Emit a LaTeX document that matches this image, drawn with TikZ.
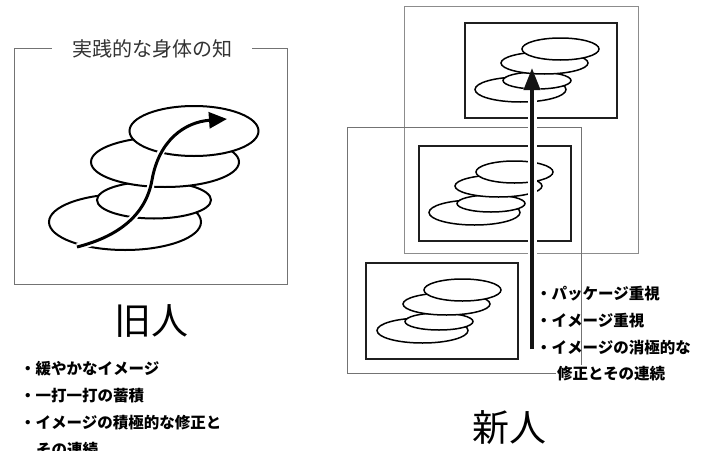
\documentclass[tikz,border=0pt]{standalone}
\usepackage{fontspec}
\newfontfamily\cjk{Noto Sans CJK JP}
\usetikzlibrary{arrows.meta}
\tikzset{
  frameline/.style={draw=black!55, line width=0.8pt},
  innerbox/.style={draw=black!88, line width=1.5pt},
  bigell/.style={draw=black, fill=white, line width=2pt},
  smell/.style={draw=black, fill=white, line width=1.5pt},
  bullet/.style={anchor=west, inner sep=0pt, font=\cjk\bfseries\fontsize{15.5}{16}\selectfont},
  bigname/.style={inner sep=0pt, font=\cjk\fontsize{37}{38}\selectfont},
  titletext/.style={fill=white, inner xsep=20pt, inner ysep=2pt, font=\cjk\fontsize{20}{21}\selectfont, text=black!80}
}
\newcommand{\ellcluster}[2]{%
  \begin{scope}[shift={(#1,#2)}]
    \draw[smell] (55.5,66.5) ellipse [x radius=45.5pt, y radius=12.5pt];
    \draw[smell] (72,57.5) ellipse [x radius=34pt, y radius=8.5pt];
    \draw[smell] (79.5,40) ellipse [x radius=43.5pt, y radius=11pt];
    \draw[smell] (95.5,26) ellipse [x radius=38.5pt, y radius=11pt];
  \end{scope}}
\begin{document}
\begin{tikzpicture}[x=1pt,y=-1pt]
\useasboundingbox (0,0) rectangle (701,450);
\clip (0,0) rectangle (701,450);

% ---------- left panel ----------
\draw[frameline] (14,48) rectangle (287,284);
\node[titletext] (title) at (152,49) {実践的な身体の知};

\draw[bigell] (125,222) ellipse [x radius=76pt, y radius=28pt];
\draw[bigell] (154,200) ellipse [x radius=57pt, y radius=18.5pt];
\draw[bigell] (165,162) ellipse [x radius=74pt, y radius=25pt];
\draw[bigell] (194,131) ellipse [x radius=64.5pt, y radius=25pt];

\coordinate (s0) at (77,247);
\coordinate (s1) at (152,180);
\coordinate (s2) at (227,119);
\draw[white, line width=7pt] (s0) .. controls (120,236) and (146,214) .. (s1)
  .. controls (159,140) and (180,124) .. (212,121);
\draw[line width=3pt, -{Triangle[length=18pt,width=16pt]}] (s0) .. controls (120,236) and (146,214) .. (s1)
  .. controls (159,140) and (185,122) .. (s2);

\node[bigname] (old) at (151,321) {旧人};
\node[bullet] (l1) at (20,369) {・緩やかなイメージ};
\node[bullet] (l2) at (20,396) {・一打一打の蓄積};
\node[bullet] (l3) at (20,423) {・イメージの積極的な修正と};
\node[bullet] (l4) at (36,450) {その連続};

% ---------- right panel ----------
\draw[frameline, draw=black!45] (404,6) rectangle (638,253);
\draw[frameline] (347,127) rectangle (581,373);

\draw[innerbox] (465,23) rectangle (617,118);
\draw[innerbox] (419,146) rectangle (571,241);
\draw[innerbox] (366,263) rectangle (518,359);

\ellcluster{465}{23}
\ellcluster{419}{146}
\ellcluster{367}{264}

\coordinate (a0) at (532,349);
\coordinate (a1) at (532,68);
\draw[white, line width=9pt, -{Triangle[length=25pt,width=22pt]}] (a0) -- ([yshift=-3pt]a1);
\draw[black!92, line width=4pt, -{Triangle[length=22pt,width=16pt]}] (a0) -- (a1);

\node[bullet] (r1) at (536,294) {・パッケージ重視};
\node[bullet] (r2) at (536,321) {・イメージ重視};
\node[bullet] (r3) at (536,348) {・イメージの消極的な};
\node[bullet, fill=white, inner xsep=1pt, inner ysep=2pt] (r4) at (556,374) {修正とその連続};

\node[bigname] (new) at (509,428) {新人};
\end{tikzpicture}
\end{document}
